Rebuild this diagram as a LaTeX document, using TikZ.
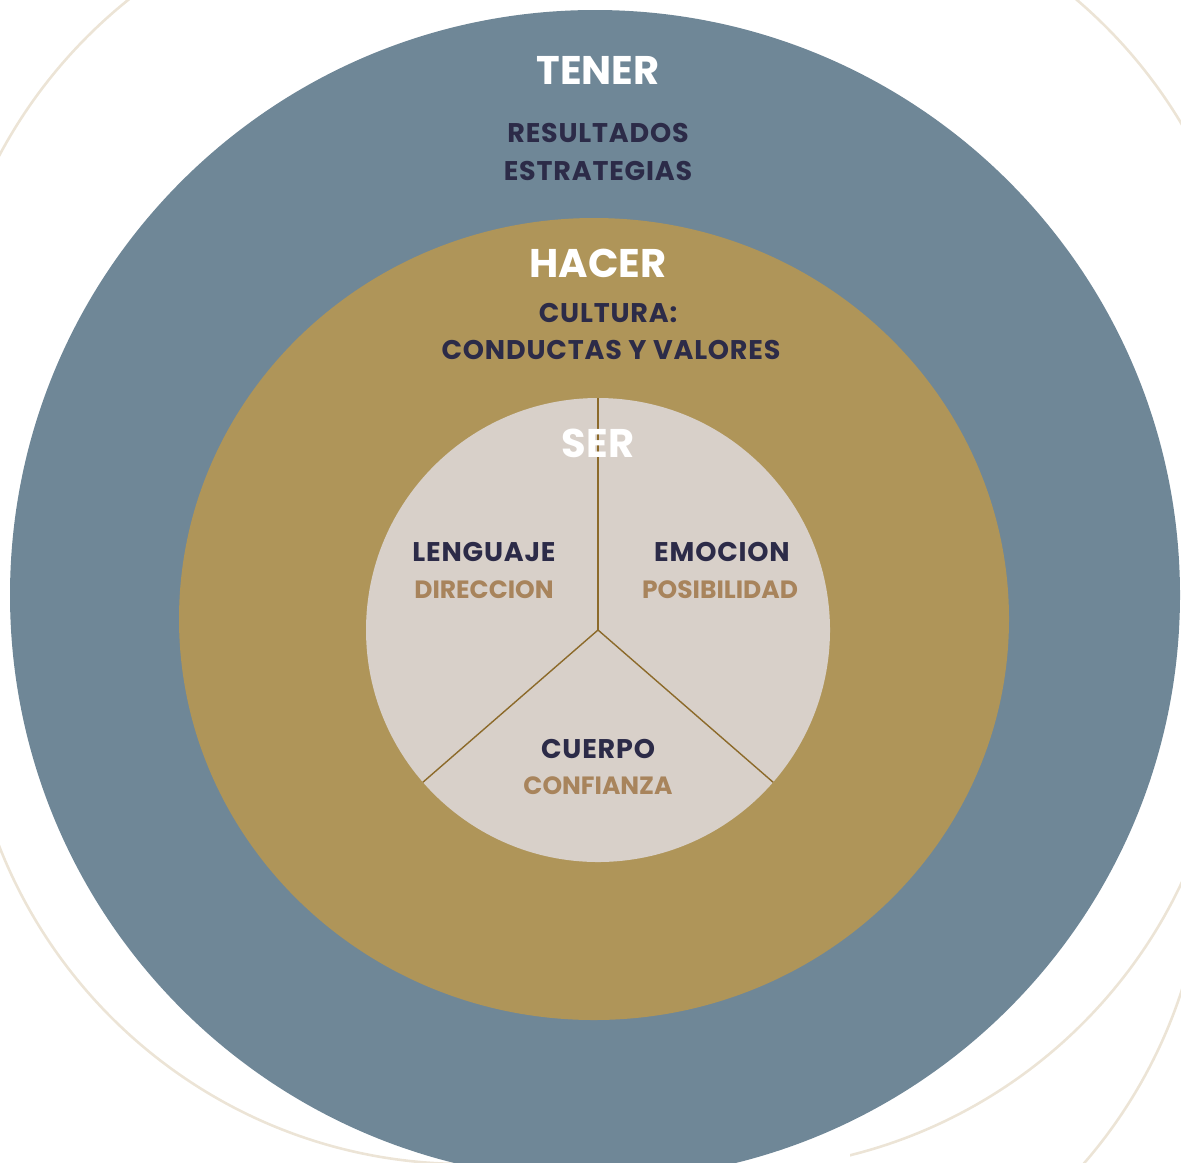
\documentclass[tikz,border=0pt]{standalone}
\usepackage{fontspec}
\setmainfont{Poppins}
\newfontfamily\spacedfont{Poppins}[LetterSpace=3]
\usepackage{tikz}
\definecolor{tenerblue}{HTML}{6F8797}
\definecolor{hacergold}{HTML}{AF9559}
\definecolor{serbeige}{HTML}{D8D0C9}
\definecolor{navytext}{HTML}{2C2B48}
\definecolor{tantext}{HTML}{A8845C}
\definecolor{linegold}{HTML}{8C6A2A}
\definecolor{arcbeige}{HTML}{ECE4D6}

\begin{document}
\begin{tikzpicture}[x=0.5pt,y=-0.5pt,
    title/.style={text=white,font=\fontsize{20}{22}\selectfont\bfseries},
    item/.style={text=navytext,font=\fontsize{13.5}{15}\selectfont\spacedfont\bfseries},
    sub/.style={text=tantext,font=\fontsize{12.5}{14}\selectfont\bfseries},
    bgarc/.style={draw=arcbeige,line width=1.3pt}]
  \useasboundingbox (0,0) rectangle (1181,1162);
  \clip (0,0) rectangle (1181,1162);
 %background arcs, corners only
    \begin{scope}
      \clip (0,0) rectangle (200,250);
      \draw[bgarc] (441,390) circle(250pt);
    \end{scope}
    \begin{scope}
      \clip (950,0) rectangle (1181,250);
      \draw[bgarc] (752,380) circle(250pt);
    \end{scope}
    \begin{scope}
      \clip (0,780) rectangle (480,1162);
      \draw[bgarc] (465,664) circle(250pt);
    \end{scope}
    \begin{scope}
      \clip (850,820) rectangle (1181,1162);
      \draw[bgarc] (729,670) circle(250pt);
    \end{scope}
    \begin{scope}
      \clip (1000,950) rectangle (1181,1162);
      \draw[bgarc] (706,836) circle(250pt);
    \end{scope}
 %rings
    \fill[tenerblue] (595,595) circle(292.5pt);
    \fill[hacergold] (594,619) ellipse(207.5pt and 200.5pt);
    \fill[serbeige] (598,630) circle(116pt);
 %ser sectors
    \coordinate (c) at (598,630);
    \draw[linegold,line width=0.7pt] (c) -- ++(90:116pt);
    \draw[linegold,line width=0.7pt] (c) -- ++(221:116pt);
    \draw[linegold,line width=0.7pt] (c) -- ++(319:116pt);
 %tener
    \node[title] (tener) at (598,70) {TENER};
    \node[item] (resultados) at (598,133) {RESULTADOS};
    \node[item] (estrategias) at (598,171) {ESTRATEGIAS};
 %hacer
    \node[title] (hacer) at (598,263) {HACER};
    \node[item] (cultura) at (608,313) {CULTURA:};
    \node[item] (conductas) at (611,350) {CONDUCTAS Y VALORES};
 %ser
    \node[title] (ser) at (598,443) {SER};
    \node[item] (lenguaje) at (484,552) {LENGUAJE};
    \node[sub] (direccion) at (484,590) {DIRECCION};
    \node[item] (emocion) at (722,552) {EMOCION};
    \node[sub] (posibilidad) at (720,590) {POSIBILIDAD};
    \node[item] (cuerpo) at (598,749) {CUERPO};
    \node[sub] (confianza) at (598,786) {CONFIANZA};
\end{tikzpicture}
\end{document}
